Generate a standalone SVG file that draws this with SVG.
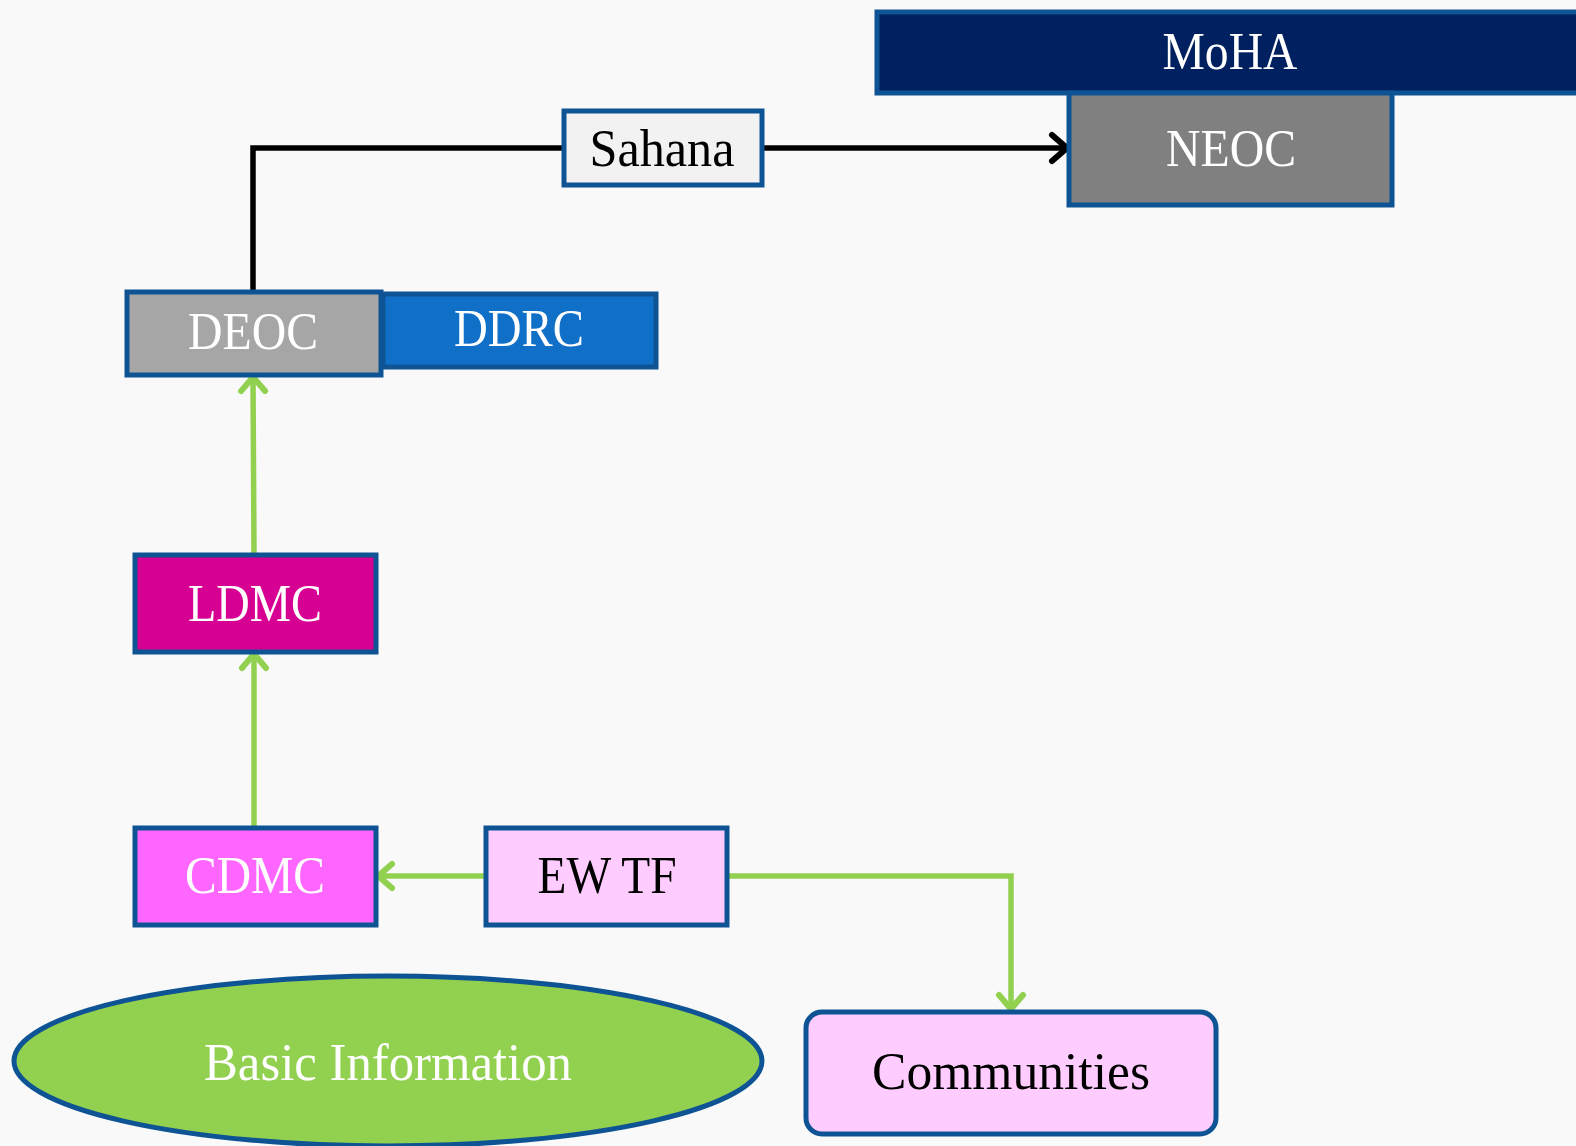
<svg xmlns="http://www.w3.org/2000/svg" width="1576" height="1146" viewBox="0 0 1576 1146">
<defs>
<style>
.box{stroke:#0E5494;stroke-width:5}
.t{font-family:"Liberation Serif",serif;font-size:52px;text-anchor:middle}
.w{fill:#FFFFFF}
.k{fill:#000000}
.blk{fill:none;stroke:#000000;stroke-width:5.5}
.grn{fill:none;stroke:#92D050;stroke-width:5.5}
</style>
<marker id="ab" markerUnits="userSpaceOnUse" markerWidth="34" markerHeight="34" viewBox="0 0 34 34" refX="29" refY="17" orient="auto">
<path d="M14,4 L29,17 L14,30" fill="none" stroke="#000000" stroke-width="6" stroke-linecap="round" stroke-linejoin="round"/>
</marker>
<marker id="ag" markerUnits="userSpaceOnUse" markerWidth="34" markerHeight="34" viewBox="0 0 34 34" refX="29" refY="17" orient="auto">
<path d="M15,5 L29,17 L15,29" fill="none" stroke="#92D050" stroke-width="6" stroke-linecap="round" stroke-linejoin="round"/>
</marker>
</defs>
<rect x="0" y="0" width="1576" height="1146" fill="#F9F9F9"/>
<g id="connectors">
<polyline class="blk" points="253,291 253,148 564,148"/>
<line class="blk" x1="762" y1="148" x2="1067" y2="148" marker-end="url(#ab)"/>
<line class="grn" x1="254" y1="554" x2="253" y2="377" marker-end="url(#ag)"/>
<line class="grn" x1="254" y1="828" x2="254" y2="654" marker-end="url(#ag)"/>
<line class="grn" x1="485" y1="876" x2="378" y2="876" marker-end="url(#ag)"/>
<polyline class="grn" points="727,876 1011,876 1011,1009" marker-end="url(#ag)"/>
</g>
<g id="moha">
<rect class="box" x="877" y="12" width="705" height="81" fill="#002060"/>
<text class="t w" x="1230" y="69" textLength="135" lengthAdjust="spacingAndGlyphs">MoHA</text>
</g>
<g id="neoc">
<rect class="box" x="1069" y="93" width="323" height="112" fill="#808080"/>
<text class="t w" x="1231" y="166" textLength="130" lengthAdjust="spacingAndGlyphs">NEOC</text>
</g>
<g id="sahana">
<rect class="box" x="564" y="111" width="198" height="74" fill="#F2F2F2"/>
<text class="t k" x="662" y="166" textLength="145" lengthAdjust="spacingAndGlyphs">Sahana</text>
</g>
<g id="deoc">
<rect class="box" x="127" y="292" width="254" height="83" fill="#A6A6A6"/>
<text class="t w" x="253" y="349" textLength="130" lengthAdjust="spacingAndGlyphs">DEOC</text>
</g>
<g id="ddrc">
<rect class="box" x="383" y="294" width="273" height="73" fill="#1070C8"/>
<text class="t w" x="519" y="346" textLength="130" lengthAdjust="spacingAndGlyphs">DDRC</text>
</g>
<g id="ldmc">
<rect class="box" x="135" y="555" width="241" height="97" fill="#D60093"/>
<text class="t w" x="255" y="621" textLength="134" lengthAdjust="spacingAndGlyphs">LDMC</text>
</g>
<g id="cdmc">
<rect class="box" x="135" y="828" width="241" height="97" fill="#FF66FF"/>
<text class="t w" x="255" y="893" textLength="140" lengthAdjust="spacingAndGlyphs">CDMC</text>
</g>
<g id="ewtf">
<rect class="box" x="486" y="828" width="241" height="97" fill="#FFCCFF"/>
<text class="t k" x="607" y="893" textLength="139" lengthAdjust="spacingAndGlyphs">EW TF</text>
</g>
<g id="basic-information">
<ellipse class="box" cx="388" cy="1061" rx="374" ry="85" fill="#92D050"/>
<text class="t w" x="388" y="1080" textLength="368" lengthAdjust="spacingAndGlyphs">Basic Information</text>
</g>
<g id="communities">
<rect class="box" x="806" y="1012" width="410" height="122" rx="16" ry="16" fill="#FFCCFF"/>
<text class="t k" x="1011" y="1089" textLength="278" lengthAdjust="spacingAndGlyphs">Communities</text>
</g>
</svg>
